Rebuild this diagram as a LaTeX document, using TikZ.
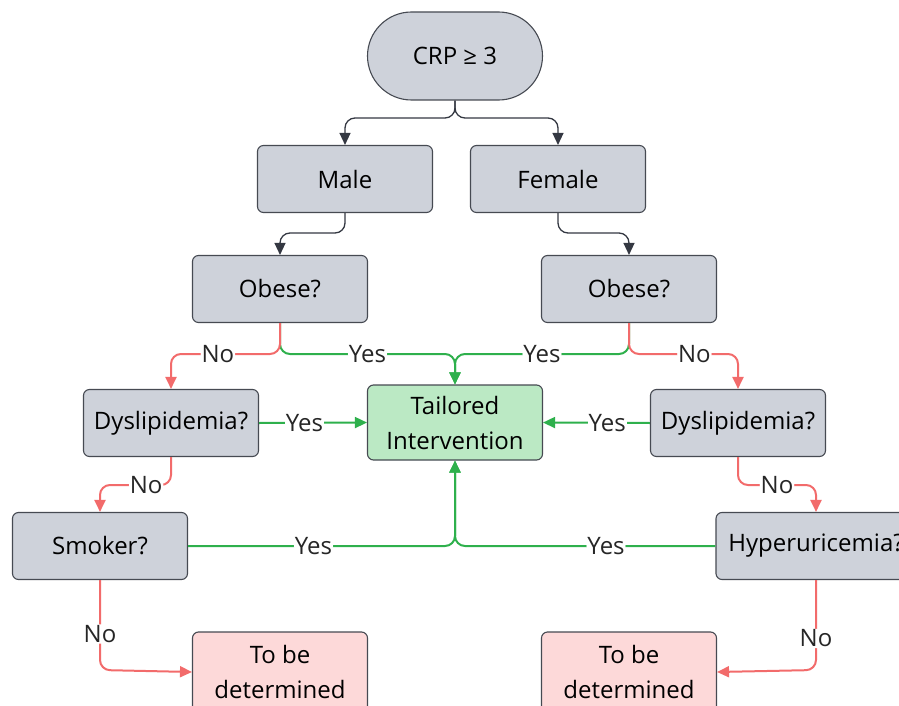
\documentclass[tikz,border=0pt]{standalone}
\usepackage{fontspec}
\setmainfont{Open Sans}
\usetikzlibrary{arrows.meta}
\definecolor{boxgrey}{RGB}{206,210,218}
\definecolor{boxline}{RGB}{70,74,82}
\definecolor{boxgreen}{RGB}{187,233,196}
\definecolor{boxpink}{RGB}{253,217,217}
\definecolor{lgreen}{RGB}{46,176,76}
\definecolor{lred}{RGB}{242,107,107}
\definecolor{ldark}{RGB}{52,56,66}
\tikzset{
  box/.style={draw=boxline, line width=1.1pt, fill=boxgrey, rounded corners=6pt,
    minimum width=175pt, minimum height=67pt, align=center, text=black,
    font=\fontsize{24}{35}\selectfont},
  gbox/.style={box, fill=boxgreen},
  pbox/.style={box, fill=boxpink},
  conn/.style={line width=1.3pt, rounded corners=10pt},
  dk/.style={conn, draw=ldark, -{Triangle[length=12pt,width=11pt]}},
  yes/.style={conn, line width=2pt, draw=lgreen, -{Triangle[length=12pt,width=11pt]}},
  no/.style={conn, line width=2pt, draw=lred, -{Triangle[length=12pt,width=11pt]}},
  lbl/.style={fill=white, inner sep=1pt, text=black!85, font=\fontsize{24}{26}\selectfont}
}
\begin{document}
\begin{tikzpicture}[x=1pt, y=-1pt]
\useasboundingbox (0,0) rectangle (899,706);
\clip (0,0) rectangle (899,706);
\node[box, rounded corners=44pt, minimum height=88pt] (crp) at (455,56) {CRP ≥ 3};
\node[box] (male) at (345,179) {Male};
\node[box] (female) at (558,179) {Female};
\node[box] (obl) at (280,289) {Obese?};
\node[box] (obr) at (629,289) {Obese?};
\node[gbox, minimum height=75pt] (tail) at (455,422.5) {Tailored\\Intervention};
\node[box] (dysl) at (171,423) {Dyslipidemia?};
\node[box] (dysr) at (738,423) {Dyslipidemia?};
\node[box] (smk) at (100,546) {Smoker?};
\node[box, minimum width=200pt] (hyp) at (816,546) {Hyperuricemia?};
\node[pbox, minimum height=80pt] (tbl) at (280,672) {To be\\determined};
\node[pbox, minimum height=80pt] (tbr) at (629,672) {To be\\determined};

\draw[dk] (crp.south) -- (455,118) -- (345,118) -- (male.north);
\draw[dk] (crp.south) -- (455,118) -- (558,118) -- (female.north);
\draw[dk] (male.south) -- (345,233) -- (280,233) -- (obl.north);
\draw[dk] (female.south) -- (558,233) -- (629,233) -- (obr.north);

\draw[yes] (obl.south) -- (280,354) -- node[lbl]{Yes} (455,354) -- (tail.north);
\draw[yes] (obr.south) -- (629,354) -- node[lbl]{Yes} (455,354) -- (tail.north);
\draw[no] (obl.south) -- (280,354) -- node[lbl, pos=0.57]{No} (171,354) -- (dysl.north);
\draw[no] (obr.south) -- (629,354) -- node[lbl, pos=0.6]{No} (738,354) -- (dysr.north);

\draw[yes, rounded corners=0pt] (dysl.east) -- node[lbl, pos=0.42]{Yes} (tail.west);
\draw[yes, rounded corners=0pt] (dysr.west) -- node[lbl, pos=0.4]{Yes} (tail.east);

\draw[no] (dysl.south) -- (171,485) -- node[lbl, pos=0.35]{No} (100,485) -- (smk.north);
\draw[no] (dysr.south) -- (738,485) -- node[lbl]{No} (816,485) -- (hyp.north);

\draw[yes] (smk.east) -- node[lbl, pos=0.47]{Yes} (455,546) -- (tail.south);
\draw[yes] (hyp.west) -- node[lbl, pos=0.42]{Yes} (455,546) -- (tail.south);

\draw[no] (smk.south) -- node[lbl, pos=0.6]{No} (100,670) -- (tbl.west);
\draw[no] (hyp.south) -- node[lbl, pos=0.65]{No} (816,670) -- (tbr.east);
\end{tikzpicture}
\end{document}
